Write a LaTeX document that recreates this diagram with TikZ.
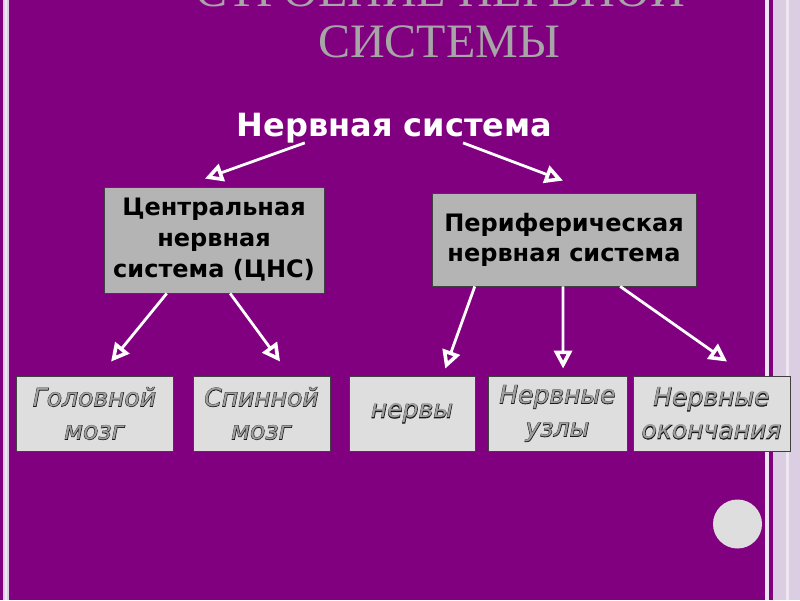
\documentclass[tikz,border=0pt]{standalone}
\usepackage{fontspec}
\setmainfont{DejaVu Sans}
\newfontfamily\titlefont{Liberation Serif}
\newfontface\partfont{DejaVu Sans Oblique}
\newfontface\rimfont[FakeBold=3.5]{DejaVu Sans Oblique}
\usetikzlibrary{arrows.meta,calc}
\definecolor{slide}{RGB}{128,0,128}
\definecolor{lilac}{RGB}{220,206,226}
\definecolor{lilacpale}{RGB}{238,230,240}
\definecolor{boxgray}{RGB}{180,180,180}
\definecolor{boxlight}{RGB}{222,222,222}
\definecolor{titlegray}{RGB}{166,166,166}
\definecolor{hollowgray}{RGB}{160,160,160}
% grey letters with a dark rim
\newcommand{\hollow}[1]{\ooalign{\textcolor{black!90}{\rimfont #1}\cr\textcolor{hollowgray}{\partfont #1}}}
\begin{document}
\begin{tikzpicture}[
    x=1pt, y=-1pt,
    sysbox/.style={draw=black!75, fill=boxgray, line width=0.8pt, inner sep=0pt, align=center, font=\fontsize{24}{31}\selectfont\bfseries},
    partbox/.style={draw=black!75, fill=boxlight, line width=0.8pt, inner sep=0pt, align=center, minimum height=75pt, font=\fontsize{25}{33}\selectfont},
    link/.style={draw=white, line width=2.8pt, -{Triangle[open, length=18pt, width=18pt, line width=3.6pt]}}
]
\useasboundingbox (0,0) rectangle (800,600);
\clip (0,0) rectangle (800,600);

% slide frame
\fill[slide] (0,0) rectangle (800,600);
\fill[lilac] (773,0) rectangle (800,600);
\fill[lilacpale] (786,0) rectangle (789,600);
\fill[lilacpale] (765,0) rectangle (769,600);
\fill[lilac] (3,0) rectangle (9,600);
\fill[lilacpale] (5,0) rectangle (7,600);
\fill[boxlight] (737.5,524) circle (24.5);

% title
\node[anchor=base, text=titlegray, font=\fontsize{48}{50}\selectfont\titlefont] (head) at (440,6) {СТРОЕНИЕ НЕРВНОЙ};
\node[anchor=base, text=titlegray, font=\fontsize{48}{50}\selectfont\titlefont] (head2) at (439,57) {СИСТЕМЫ};

\node[anchor=base, inner sep=0pt, text=white, font=\fontsize{32}{32}\selectfont\bfseries] (ns) at (394.5,136) {Нервная система};

\node[sysbox, minimum width=220pt, minimum height=106pt] (cns) at (214,240) {Центральная\\нервная\\система (ЦНС)};
\node[sysbox, minimum width=264pt, minimum height=93pt, font=\fontsize{24}{30}\selectfont\bfseries] (pns) at (564,239.5) {Периферическая\\нервная система};

\node[partbox, minimum width=157pt] (brain) at (94.5,413.5) {\hollow{Головной}\\\hollow{мозг}};
\node[partbox, minimum width=137pt] (spine) at (261.5,413.5) {\hollow{Спинной}\\\hollow{мозг}};
\node[partbox, minimum width=126pt] (nerves) at (412,413.5) {\hollow{нервы}};
\node[partbox, minimum width=139pt] (ganglia) at (557.5,413.5) {\hollow{Нервные}\\\hollow{узлы}};
\node[partbox, minimum width=157pt] (endings) at (711.5,413.5) {\hollow{Нервные}\\\hollow{окончания}};

\foreach \a/\fa/\b/\fb/\gap in {ns/0.216/cns/0.459/8, ns/0.717/pns/0.496/12,
    cns/0.286/brain/0.605/14, cns/0.573/spine/0.635/14,
    pns/0.163/nerves/0.762/7, pns/0.496/ganglia/0.54/7, pns/0.712/endings/0.599/14}
  \draw[link] ($(\a.south west)!\fa!(\a.south east)$) -- ($(\b.north west)!\fb!(\b.north east)+(0,-\gap)$);
\end{tikzpicture}
\end{document}
